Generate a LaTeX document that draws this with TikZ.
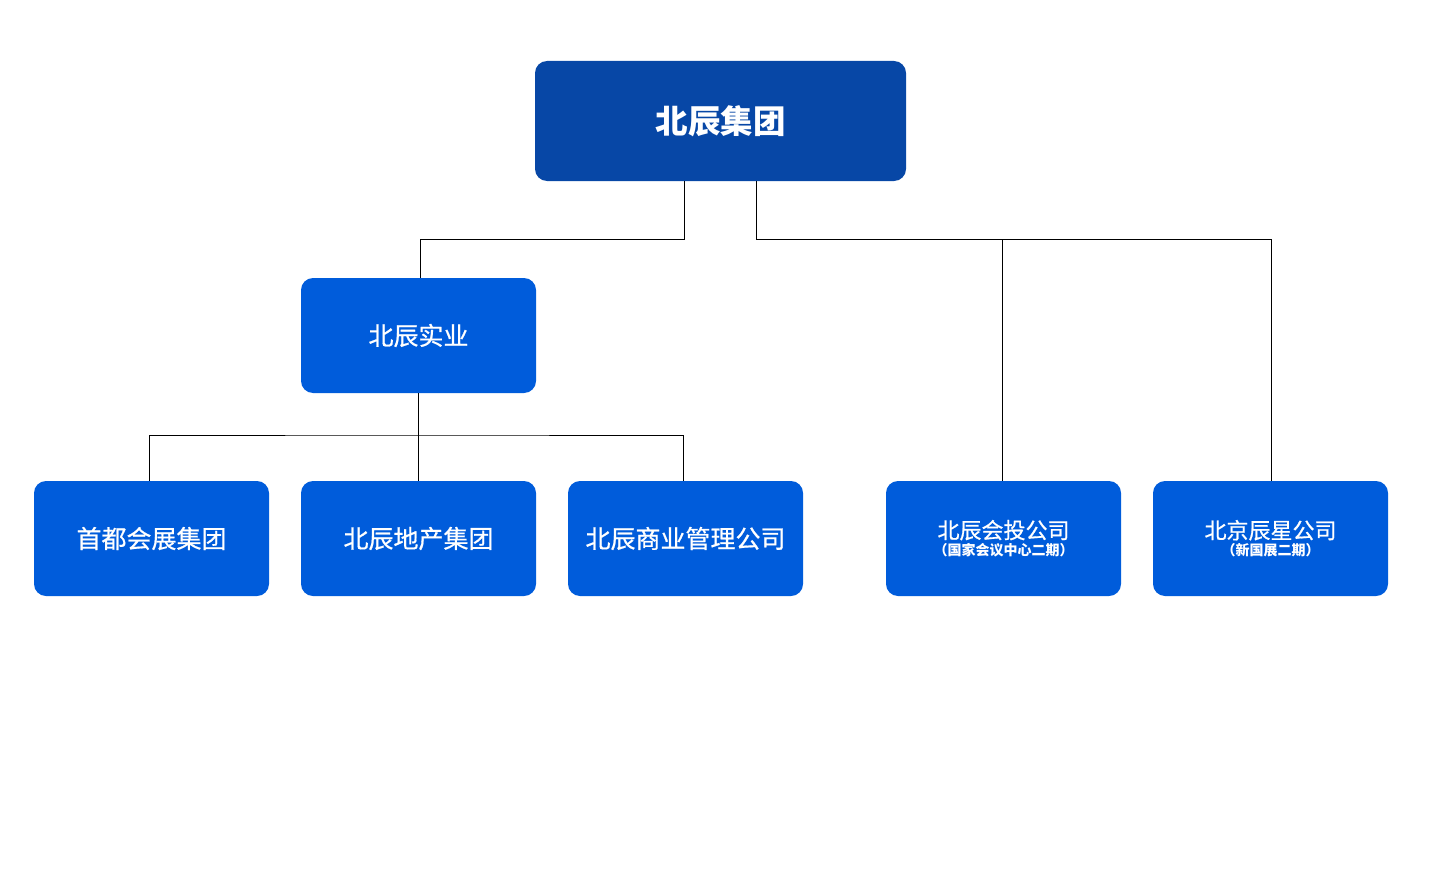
\documentclass[tikz,border=0pt]{standalone}
\usepackage{fontspec}
\newfontfamily\cjk{Noto Sans CJK SC}
\newfontfamily\cjkmed[FakeBold=0.7]{Noto Sans CJK SC}
\definecolor{darkblue}{HTML}{0747A6}
\definecolor{midblue}{HTML}{005CDB}
\newcommand{\subtext}[1]{{\cjk\bfseries\fontsize{14}{15}\selectfont #1}}
\begin{document}
\begin{tikzpicture}[x=1pt, y=-1pt,
    box/.style={fill=midblue, text=white, rounded corners=12pt, minimum width=235pt, minimum height=115pt, inner sep=0pt, font=\cjkmed\fontsize{25}{28}\selectfont, align=center},
    topbox/.style={box, fill=darkblue, minimum width=371pt, minimum height=120pt, font=\cjk\bfseries\fontsize{32.5}{36}\selectfont},
    link/.style={black, line width=1pt}]
    \useasboundingbox (0,0) rectangle (1440,872);
    \node[topbox] (group) at (720.5,121) {北辰集团};
    \node[box] (shiye) at (418.5,335.5) {北辰实业};
    \node[box] (huizhan) at (151.5,538.5) {首都会展集团};
    \node[box] (dichan) at (418.5,538.5) {北辰地产集团};
    \node[box] (shangye) at (685.5,538.5) {北辰商业管理公司};
    \node[box, font=\cjkmed\fontsize{22}{24}\selectfont] (huitou) at (1003.5,538.5) {北辰会投公司\\[-7pt]\subtext{（国家会议中心二期）}};
    \node[box, font=\cjkmed\fontsize{22}{24}\selectfont] (chenxing) at (1270.5,538.5) {北京辰星公司\\[-7pt]\subtext{（新国展二期）}};
    % upper level
    \coordinate (top1) at (684,239);
    \coordinate (top2) at (756,239);
    \draw[link] (group.south -| top1) -- (top1) -| (shiye.north -| 420,0);
    \draw[link] (group.south -| top2) -- (top2) -| (chenxing.north -| 1271,0);
    \draw[link] (1002,239) -- (huitou.north -| 1002,0);
    % lower level
    \coordinate (mid) at (418,435);
    \draw[link] (shiye.south -| mid) -- (mid);
    \draw[link] (huizhan.north -| 149,0) |- (mid) -| (shangye.north -| 683,0);
    \draw[link] (mid) -- (dichan.north -| mid);
\end{tikzpicture}
\end{document}
